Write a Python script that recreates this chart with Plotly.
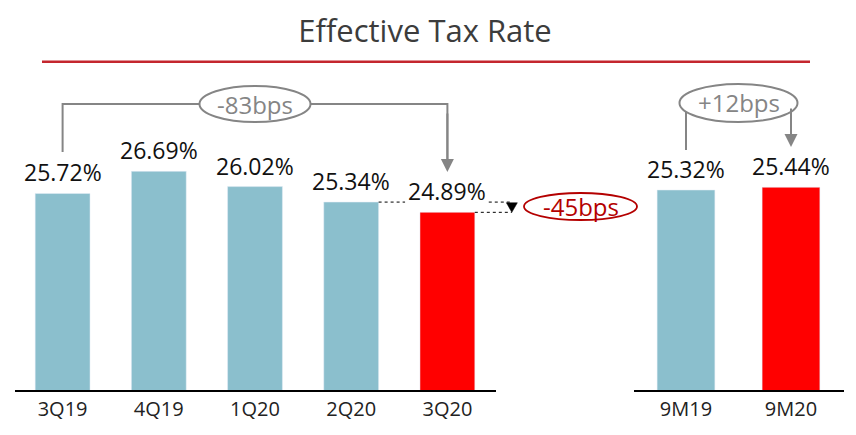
import plotly.graph_objects as go

# ---- data ----
quarters = ["3Q19", "4Q19", "1Q20", "2Q20", "3Q20"]
quarter_rates = [25.72, 26.69, 26.02, 25.34, 24.89]
nine_months = ["9M19", "9M20"]
nine_month_rates = [25.32, 25.44]
quarter_colors = ["#8BBFCD", "#8BBFCD", "#8BBFCD", "#8BBFCD", "#FF0000"]
nine_month_colors = ["#8BBFCD", "#FF0000"]
title_text = "Effective Tax Rate"
qoq_label = "-83bps"
seq_label = "-45bps"
yoy_label = "+12bps"

W, H = 856, 435
FONT = "Open Sans"
GRAY = "#858585"
DARKRED = "#B40000"


def py(p):
    """pixel row -> paper y"""
    return 1 - p / H


def px(p):
    return p / W


left_dom = [px(14.5), px(495.5)]
right_dom = [px(633.5), px(843.5)]


def qpos(i):
    """category index on the left axis -> paper x"""
    return left_dom[0] + (i + 0.5) / len(quarters) * (left_dom[1] - left_dom[0])


fig = go.Figure()
fig.add_trace(go.Bar(x=quarters, y=quarter_rates, marker_color=quarter_colors,
                     width=0.57, xaxis="x", yaxis="y", hoverinfo="skip"))
fig.add_trace(go.Bar(x=nine_months, y=nine_month_rates, marker_color=nine_month_colors,
                     width=0.55, xaxis="x2", yaxis="y2", hoverinfo="skip"))

scale = 22.75  # px per percentage point
left_base = 17.08
right_base = 16.53
ydom = [45 / H, 1]
span = 390 / scale

axis_common = dict(type="category", showline=True, linecolor="#000000", linewidth=1.5,
                   ticks="", showgrid=False, zeroline=False,
                   tickfont=dict(family=FONT, size=20, color="#222222"))
fig.update_layout(
    width=W, height=H,
    margin=dict(l=0, r=0, t=0, b=0),
    paper_bgcolor="white", plot_bgcolor="white",
    showlegend=False,
    xaxis=dict(domain=left_dom, anchor="y", range=[-0.5, len(quarters) - 0.5], **axis_common),
    xaxis2=dict(domain=right_dom, anchor="y2", range=[-0.5, len(nine_months) - 0.5], **axis_common),
    yaxis=dict(domain=ydom, range=[left_base, left_base + span], visible=False),
    yaxis2=dict(domain=ydom, range=[right_base, right_base + span], visible=False, anchor="x2"),
    title=dict(text=title_text, x=0.4965, xanchor="center", y=py(31), yanchor="middle",
               yref="container", font=dict(family=FONT, size=31, color="#3C3C3C")),
)

shapes = []
annotations = []

# red rule under title
shapes.append(dict(type="line", xref="paper", yref="paper", x0=px(42), x1=px(810),
                   y0=py(61.7), y1=py(61.7), line=dict(color="#C4262E", width=2.5)))

# value labels
for cats, vals, xr, yr in [(quarters, quarter_rates, "x", "y"),
                           (nine_months, nine_month_rates, "x2", "y2")]:
    for c, v in zip(cats, vals):
        annotations.append(dict(x=c, y=v, xref=xr, yref=yr, text=f"{v:.2f}%",
                                showarrow=False, xanchor="center", yanchor="bottom", yshift=3,
                                font=dict(family=FONT, size=23, color="#111111")))

# ---- -83bps bracket (3Q19 -> 3Q20) ----
first_i, last_i = 0, len(quarters) - 1
mid_i = (first_i + last_i) / 2
br_y = py(104)
shapes.append(dict(type="path", xref="x", yref="paper",
                   path=f"M {first_i},{py(152)} L {first_i},{br_y} L {last_i},{br_y} L {last_i},{py(162)}",
                   line=dict(color=GRAY, width=2)))
annotations.append(dict(x=quarters[last_i], y=py(172), xref="x", yref="paper", text="",
                        showarrow=True, ax=0, ay=-60, arrowhead=2, arrowsize=1.3,
                        arrowwidth=2, arrowcolor=GRAY, standoff=0))
shapes.append(dict(type="circle", xref="x", yref="paper", x0=mid_i - 0.577, x1=mid_i + 0.577,
                   y0=py(122), y1=py(86), fillcolor="white", line=dict(color=GRAY, width=2)))
annotations.append(dict(x=mid_i, y=br_y, xref="x", yref="paper", text=qoq_label, showarrow=False,
                        xanchor="center", yanchor="middle",
                        font=dict(family=FONT, size=24, color=GRAY)))

# ---- +12bps bracket (9M19 -> 9M20) ----
br2_y = py(103)
shapes.append(dict(type="path", xref="x2", yref="paper",
                   path=f"M 0,{py(150)} L 0,{br2_y} M 1,{br2_y} L 1,{py(138)}",
                   line=dict(color=GRAY, width=2)))
annotations.append(dict(x=nine_months[1], y=py(147), xref="x2", yref="paper", text="",
                        showarrow=True, ax=0, ay=-40, arrowhead=2, arrowsize=1.3,
                        arrowwidth=2, arrowcolor=GRAY, standoff=0))
shapes.append(dict(type="circle", xref="x2", yref="paper", x0=0.5 - 0.562, x1=0.5 + 0.562,
                   y0=py(122), y1=py(84), fillcolor="white", line=dict(color=GRAY, width=2)))
annotations.append(dict(x=0.5, y=br2_y, xref="x2", yref="paper", text=yoy_label, showarrow=False,
                        xanchor="center", yanchor="middle",
                        font=dict(family=FONT, size=24, color=GRAY)))

# ---- -45bps dashed comparison (2Q20 -> 3Q20) ----
prev_v, cur_v = quarter_rates[3], quarter_rates[4]
half_bar = 0.285
tri_xp = qpos(4.67)
tri_hw = px(5.5)
dash = dict(color="#000000", width=1, dash="3px,3px")
shapes.append(dict(type="line", xref="paper", yref="y", x0=qpos(3 + half_bar), x1=qpos(3.56),
                   y0=prev_v, y1=prev_v, line=dash))
shapes.append(dict(type="line", xref="paper", yref="y", x0=qpos(4.43), x1=tri_xp,
                   y0=prev_v, y1=prev_v, line=dash))
shapes.append(dict(type="line", xref="paper", yref="y", x0=qpos(4 + half_bar), x1=tri_xp,
                   y0=cur_v, y1=cur_v, line=dash))
shapes.append(dict(type="path", xref="paper", yref="y",
                   path=(f"M {tri_xp - tri_hw},{prev_v - 0.03} L {tri_xp + tri_hw},{prev_v - 0.03} "
                         f"L {tri_xp},{cur_v} Z"),
                   fillcolor="#000000", line=dict(color="#000000", width=0.5)))
shapes.append(dict(type="circle", xref="paper", yref="paper", x0=px(524), x1=px(637),
                   y0=py(220), y1=py(193), line=dict(color=DARKRED, width=1.8)))
annotations.append(dict(x=px(580.5), y=py(206.5), xref="paper", yref="paper", text=seq_label,
                        showarrow=False, xanchor="center", yanchor="middle",
                        font=dict(family=FONT, size=24, color=DARKRED)))

fig.update_layout(shapes=shapes, annotations=annotations)
fig.write_html("out.html")
